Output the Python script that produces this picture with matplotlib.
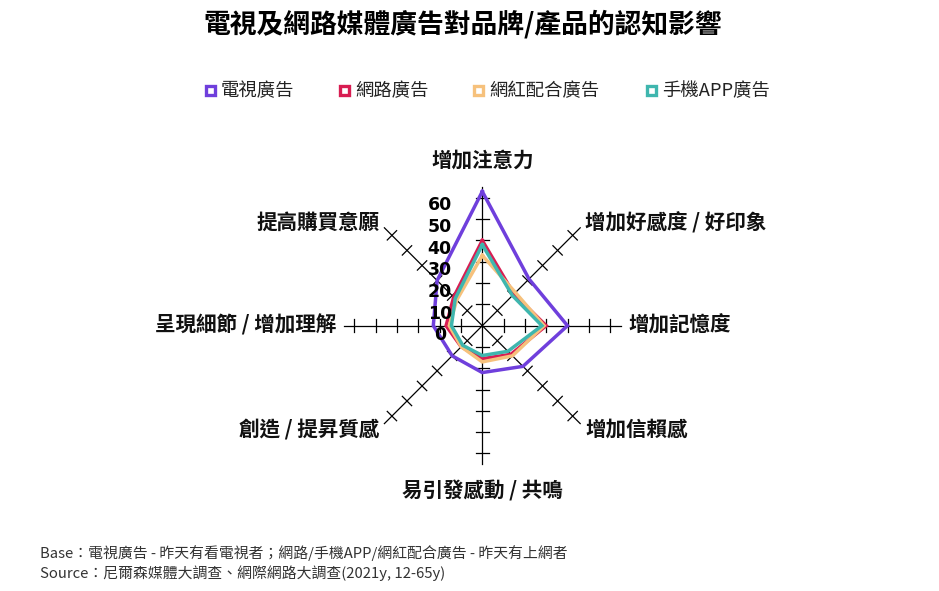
import numpy as np
import matplotlib
matplotlib.use("Agg")
import matplotlib.pyplot as plt
from matplotlib.patches import Rectangle

plt.rcParams['font.family'] = ['Noto Sans CJK TC', 'DejaVu Sans']

# ---------------- data ----------------
categories = ['增加注意力', '增加好感度 / 好印象', '增加記憶度', '增加信賴感',
              '易引發感動 / 共鳴', '創造 / 提昇質感', '呈現細節 / 增加理解', '提高購買意願']
series_names = ['電視廣告', '網路廣告', '網紅配合廣告', '手機APP廣告']
tv_ad = [63, 31, 40, 27, 22, 20, 23, 30]
web_ad = [40, 21, 30, 19, 15.5, 14, 17, 19]
kol_ad = [33, 22, 29, 20, 17, 14, 15.5, 17]
app_ad = [38, 20, 28, 17, 14, 13, 14.5, 18]
tick_values = [0, 10, 20, 30, 40, 50, 60]
axis_max = 65
colors = ['#6f3fdc', '#d81d52', '#f6c17c', '#3fb6ae']

title = '電視及網路媒體廣告對品牌/產品的認知影響'
note1 = 'Base：電視廣告 - 昨天有看電視者；網路/手機APP/網紅配合廣告 - 昨天有上網者'
note2 = 'Source：尼爾森媒體大調查、網際網路大調查(2021y, 12-65y)'

# ---------------- figure ----------------
W, H = 939, 591
fig = plt.figure(figsize=(W / 100, H / 100), dpi=100)
cx, cy = 482.3, 325.7          # centre in pixels (from top)
ppu = 2.13                      # pixels per unit
R = 100
half = R * ppu
ax = fig.add_axes([(cx - half) / W, (H - cy - half) / H, 2 * half / W, 2 * half / H])
ax.set_xlim(-R, R)
ax.set_ylim(-R, R)
ax.axis('off')

n = len(categories)
angles = np.arange(n) * 2 * np.pi / n


def xy(r, a):
    return r * np.sin(a), r * np.cos(a)


# axes + perpendicular ticks
tl = 3.1
for a in angles:
    x1, y1 = xy(axis_max, a)
    ax.plot([0, x1], [0, y1], color='black', lw=0.9, zorder=1)
    px, py = np.cos(a), -np.sin(a)
    for v in tick_values[1:]:
        tx, ty = xy(v, a)
        ax.plot([tx - px * tl, tx + px * tl], [ty - py * tl, ty + py * tl],
                color='black', lw=0.9, zorder=1)

# tick labels
for v in tick_values:
    ax.text(-20, v * 1.02 - 4.6, str(v), ha='center', va='center',
            fontsize=12.5, fontweight='bold', family='DejaVu Sans', zorder=5)

# category labels
for a, name in zip(angles, categories):
    s, c = np.sin(a), np.cos(a)
    if abs(s) < 1e-6:
        x, y = 0, (77.8 if c > 0 else -77.6)
        ha = 'center'
    else:
        if abs(c) < 1e-6:
            x, y = 68.4 * np.sign(s), 0.3
        else:
            x, y = 48.4 * np.sign(s), 48.5 * np.sign(c)
        ha = 'left' if s > 0 else 'right'
    ax.text(x, y, name, ha=ha, va='center', fontsize=14.8, fontweight='bold',
            color='#111111', clip_on=False, zorder=5)

# series
all_series = [tv_ad, web_ad, kol_ad, app_ad]
for vals, col in zip(all_series, colors):
    v = np.array(vals + vals[:1], dtype=float)
    a = np.append(angles, angles[0])
    x, y = xy(v, a)
    ax.plot(x, y, color=col, lw=2.5, zorder=3, solid_joinstyle='miter')

# title
fig.text(462.5 / W, 1 - 24 / H, title, ha='center', va='center',
         fontsize=19.3, fontweight='bold')

# legend (manual)
leg_sq_x = [204, 338, 472, 645]
leg_y = 91
for sx, name, col in zip(leg_sq_x, series_names, colors):
    fig.add_artist(Rectangle(((sx + 1.5) / W, 1 - (leg_y + 4.5) / H), 9 / W, 9 / H,
                             transform=fig.transFigure, facecolor='white',
                             edgecolor=col, lw=2.4))
    fig.text((sx + 17) / W, 1 - leg_y / H, name, ha='left', va='center',
             fontsize=13.2, color='#222222')

# footnotes
fig.text(40 / W, 1 - 553 / H, note1, ha='left', va='center', fontsize=10.7, color='#333333')
fig.text(40 / W, 1 - 573 / H, note2, ha='left', va='center', fontsize=10.7, color='#333333')

fig.savefig('out.png', dpi=100)
